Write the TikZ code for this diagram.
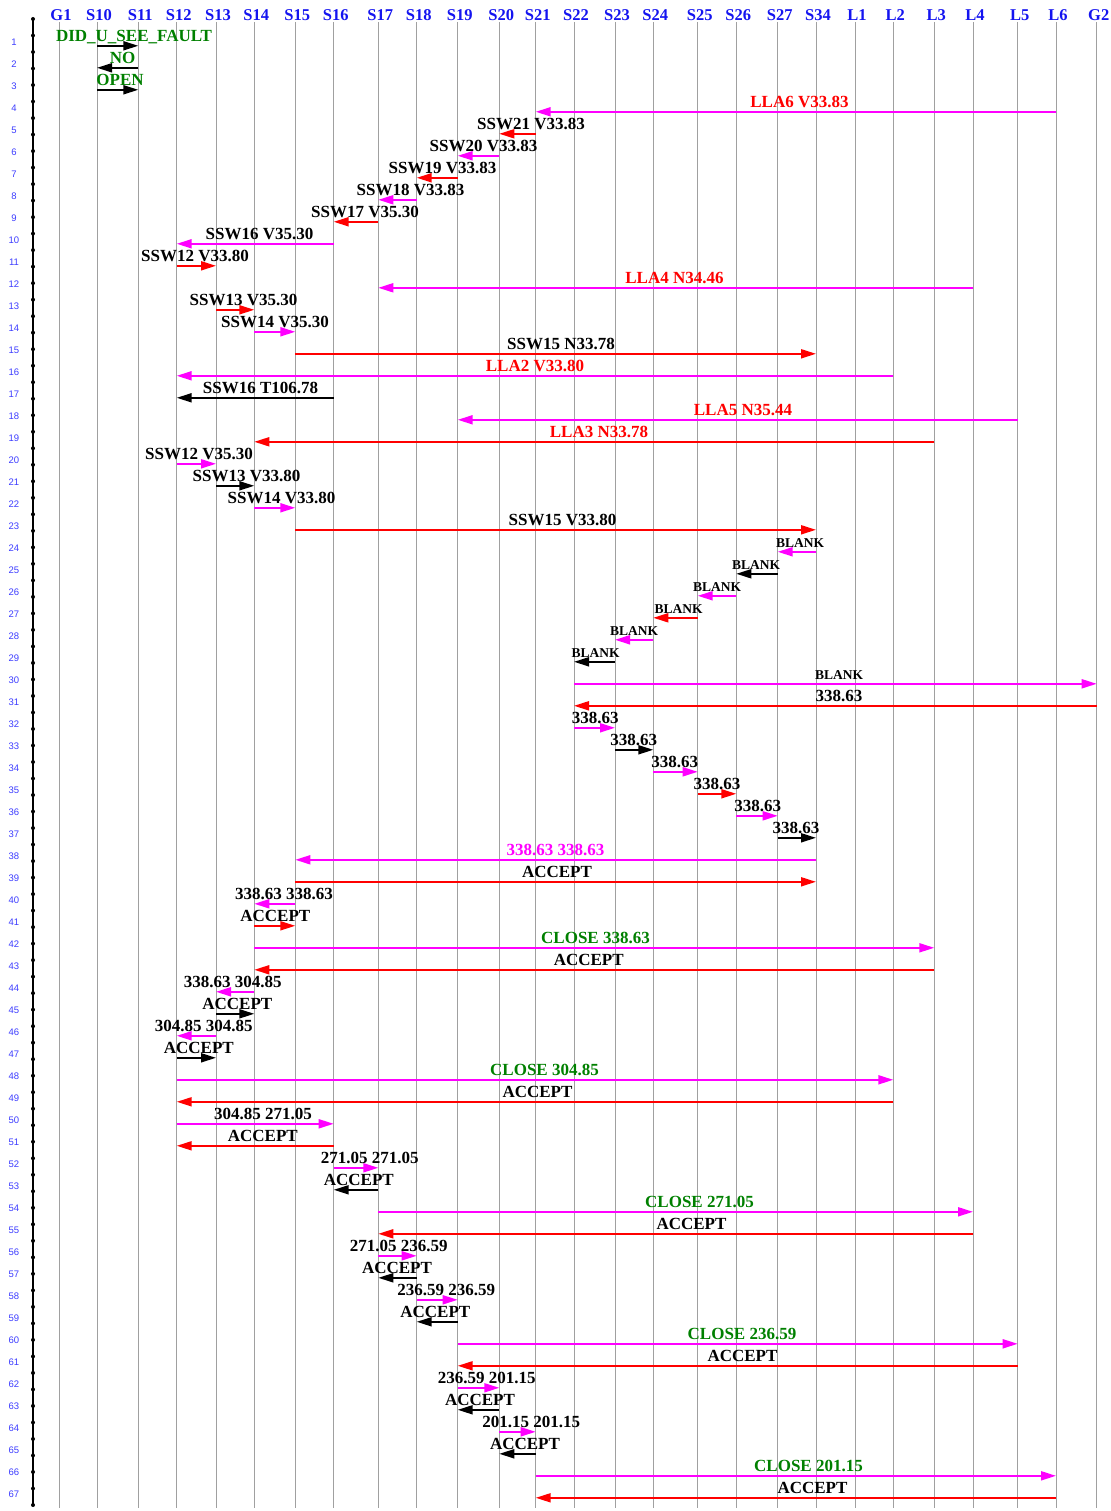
\documentclass[tikz,border=0pt]{standalone}
\usepackage{fontspec}
\setmainfont{Liberation Serif}
\newfontfamily\rowfont{Liberation Sans}
\usetikzlibrary{arrows.meta, calc}

\definecolor{okgreen}{RGB}{0,128,0}
\definecolor{hdrblue}{RGB}{20,20,240}
\definecolor{rowblue}{RGB}{60,60,255}
\definecolor{lifegray}{RGB}{160,160,160}
\definecolor{msgmag}{RGB}{255,0,255}
\definecolor{msgred}{RGB}{255,0,0}

\begin{document}
\begin{tikzpicture}[x=1pt, y=-1pt,
        header/.style={font=\fontsize{16.5}{16.5}\selectfont\bfseries, text=hdrblue, anchor=base, inner sep=0pt},
        rownum/.style={font=\rowfont\fontsize{9.5}{9.5}\selectfont, text=rowblue, inner sep=0pt},
        lifeline/.style={draw=lifegray, line width=1pt},
        msg/.style={line width=1.9pt, -{Triangle[length=15pt, width=9pt]}},
        lbl/.style={font=\fontsize{17}{17}\selectfont\bfseries, anchor=base, inner sep=0pt},
        lblk/.style={lbl, text=black},
        lred/.style={lbl, text=msgred},
        lgrn/.style={lbl, text=okgreen},
        lmag/.style={lbl, text=msgmag},
        lsml/.style={lbl, text=black, font=\fontsize{13.5}{13.5}\selectfont\bfseries}%
    ]
        \useasboundingbox (0,0) rectangle (1110,1511);

        % lifelines and their headers
        \foreach \n/\x in {G1/59, S10/97, S11/138.3, S12/176.7, S13/216, S14/254.3, S15/295.3,
                S16/333.7, S17/378.3, S18/416.7, S19/457.7, S20/499.3, S21/535.7, S22/574,
                S23/615, S24/653.3, S25/697.7, S26/736.3, S27/777.7, S34/816, L1/855,
                L2/893.3, L3/934.3, L4/973, L5/1017.7, L6/1056, G2/1096.7} {
            \coordinate (\n) at (\x, 22);
            \node[header] (h\n) at (\x+2, 21) {\n};
            \draw[lifeline] (\n) -- (\n |- 0,1508);
        }

        % step axis
        \coordinate (axtop) at (33, 19);
        \coordinate (axbot) at (33, 1505);
        \draw[line width=1.5pt] (axtop) -- (axbot);
        \foreach \k in {0,...,90}
            \fill ($(axtop)!\k/90!(axbot)$) circle (2pt);
        \foreach \r in {1,...,67}
            \node[rownum] (r\r) at (14, {42+22*(\r-1)}) {\r};

        % messages: row / from / to / line colour / label style / label x / label
        \foreach \r/\a/\b/\c/\s/\lx/\t in {
            1/S10/S11/black/lgrn/134/DID\_U\_SEE\_FAULT,
            2/S11/S10/black/lgrn/122.5/NO,
            3/S10/S11/black/lgrn/120/OPEN,
            4/L6/S21/msgmag/lred/799.5/LLA6 V33.83,
            5/S21/S20/msgred/lblk/531/SSW21 V33.83,
            6/S20/S19/msgmag/lblk/483.5/SSW20 V33.83,
            7/S19/S18/msgred/lblk/442.5/SSW19 V33.83,
            8/S18/S17/msgmag/lblk/410.5/SSW18 V33.83,
            9/S17/S16/msgred/lblk/365/SSW17 V35.30,
            10/S16/S12/msgmag/lblk/259.5/SSW16 V35.30,
            11/S12/S13/msgred/lblk/195/SSW12 V33.80,
            12/L4/S17/msgmag/lred/674.5/LLA4 N34.46,
            13/S13/S14/msgred/lblk/243.5/SSW13 V35.30,
            14/S14/S15/msgmag/lblk/275/SSW14 V35.30,
            15/S15/S34/msgred/lblk/561/SSW15 N33.78,
            16/L2/S12/msgmag/lred/535/LLA2 V33.80,
            17/S16/S12/black/lblk/260.5/SSW16 T106.78,
            18/L5/S19/msgmag/lred/743/LLA5 N35.44,
            19/L3/S14/msgred/lred/599/LLA3 N33.78,
            20/S12/S13/msgmag/lblk/199/SSW12 V35.30,
            21/S13/S14/black/lblk/246.5/SSW13 V33.80,
            22/S14/S15/msgmag/lblk/281.5/SSW14 V33.80,
            23/S15/S34/msgred/lblk/562.5/SSW15 V33.80,
            24/S34/S27/msgmag/lsml/800/BLANK,
            25/S27/S26/black/lsml/756/BLANK,
            26/S26/S25/msgmag/lsml/717/BLANK,
            27/S25/S24/msgred/lsml/678.6/BLANK,
            28/S24/S23/msgmag/lsml/634/BLANK,
            29/S23/S22/black/lsml/595.7/BLANK,
            30/S22/G2/msgmag/lsml/839/BLANK,
            31/G2/S22/msgred/lblk/839/338.63,
            32/S22/S23/msgmag/lblk/595.3/338.63,
            33/S23/S24/black/lblk/633.7/338.63,
            34/S24/S25/msgmag/lblk/674.7/338.63,
            35/S25/S26/msgred/lblk/717/338.63,
            36/S26/S27/msgmag/lblk/757.7/338.63,
            37/S27/S34/black/lblk/796/338.63,
            38/S34/S15/msgmag/lmag/555.5/338.63 338.63,
            39/S15/S34/msgred/lblk/557/ACCEPT,
            40/S15/S14/msgmag/lblk/284/338.63 338.63,
            41/S14/S15/msgred/lblk/275.3/ACCEPT,
            42/S14/L3/msgmag/lgrn/595.5/CLOSE 338.63,
            43/L3/S14/msgred/lblk/588.7/ACCEPT,
            44/S14/S13/msgmag/lblk/232.8/338.63 304.85,
            45/S13/S14/black/lblk/237.3/ACCEPT,
            46/S13/S12/msgmag/lblk/203.7/304.85 304.85,
            47/S12/S13/black/lblk/198.8/ACCEPT,
            48/S12/L2/msgmag/lgrn/544.5/CLOSE 304.85,
            49/L2/S12/msgred/lblk/537.5/ACCEPT,
            50/S12/S16/msgmag/lblk/263/304.85 271.05,
            51/S16/S12/msgred/lblk/262.8/ACCEPT,
            52/S16/S17/msgmag/lblk/369.7/271.05 271.05,
            53/S17/S16/black/lblk/358.8/ACCEPT,
            54/S17/L4/msgmag/lgrn/699.5/CLOSE 271.05,
            55/L4/S17/msgred/lblk/691.5/ACCEPT,
            56/S17/S18/msgmag/lblk/398.8/271.05 236.59,
            57/S18/S17/black/lblk/397/ACCEPT,
            58/S18/S19/msgmag/lblk/446.3/236.59 236.59,
            59/S19/S18/black/lblk/435.3/ACCEPT,
            60/S19/L5/msgmag/lgrn/742/CLOSE 236.59,
            61/L5/S19/msgred/lblk/742.5/ACCEPT,
            62/S19/S20/msgmag/lblk/486.7/236.59 201.15,
            63/S20/S19/black/lblk/480/ACCEPT,
            64/S20/S21/msgmag/lblk/531.3/201.15 201.15,
            65/S21/S20/black/lblk/525/ACCEPT,
            66/S21/L6/msgmag/lgrn/808.5/CLOSE 201.15,
            67/L6/S21/msgred/lblk/812.5/ACCEPT} {
            \pgfmathsetmacro\yy{45.8+22*(\r-1)}
            \draw[msg, \c] (\a |- 0,\yy) -- (\b |- 0,\yy);
            \node[\s] (l\r) at (\lx, \yy-4) {\t};
        }
    \end{tikzpicture}
\end{document}
